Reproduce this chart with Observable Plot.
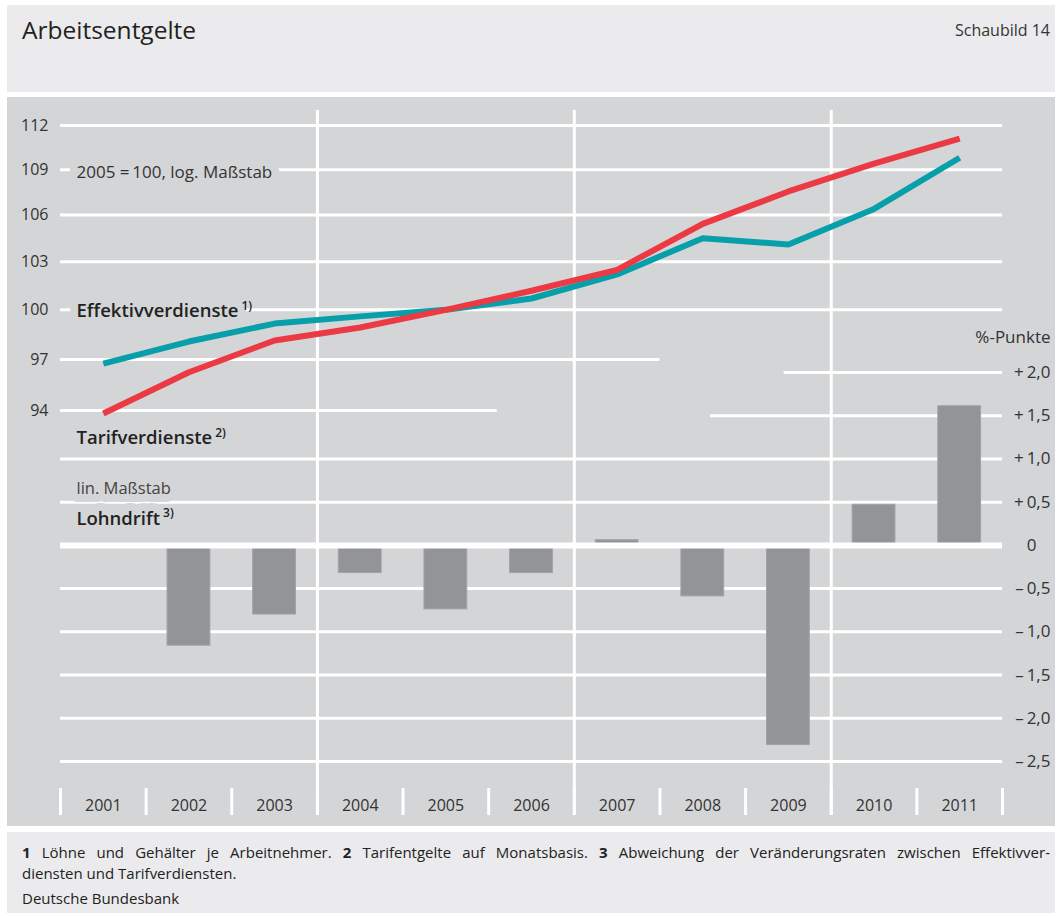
<!DOCTYPE html>
<html>
<head>
<meta charset="utf-8">
<script src="https://cdn.jsdelivr.net/npm/d3@7"></script>
<script src="https://cdn.jsdelivr.net/npm/@observablehq/plot@0.6"></script>
<style>
  body { margin: 0; background: #ffffff; font-family: "Open Sans", sans-serif; }
  #page { position: relative; width: 1059px; height: 916px; overflow: hidden; }
  .panel { position: absolute; left: 7px; width: 1048px; }
  #head { top: 5px; height: 87px; background: #ebebed; }
  #chart { top: 97px; height: 729px; background: #d4d5d7; overflow: visible; }
  #foot { top: 832px; height: 81px; background: #ebebed; }
  #title { position: absolute; left: 15px; top: 8px; font-size: 24.5px; color: #222; }
  #num { position: absolute; right: 5px; top: 14px; font-size: 16px; color: #333; }
  .layer { position: absolute; left: -7px; top: 0; max-width: none !important; }
  .fn { position: absolute; left: 15px; width: 1028px; font-size: 15px; color: #222; line-height: 21px; white-space: nowrap; }
  #fn1 { top: 10px; text-align: justify; text-align-last: justify; white-space: normal; }
  #fn2 { top: 31px; }
  #fn3 { top: 56px; }
</style>
</head>
<body>
<div id="page">
  <div id="head" class="panel">
    <div id="title">Arbeitsentgelte</div>
    <div id="num">Schaubild 14</div>
  </div>
  <div id="chart" class="panel"></div>
  <div id="foot" class="panel">
    <div id="fn1" class="fn"><b>1</b> Löhne und Gehälter je Arbeitnehmer. <b>2</b> Tarifentgelte auf Monatsbasis. <b>3</b> Abweichung der Veränderungsraten zwischen Effektivver-</div>
    <div id="fn2" class="fn">diensten und Tarifverdiensten.</div>
    <div id="fn3" class="fn">Deutsche Bundesbank</div>
  </div>
</div>
<script>
// ---- data ----
const years = [2001, 2002, 2003, 2004, 2005, 2006, 2007, 2008, 2009, 2010, 2011];
const effektivverdienste = [96.75, 98.07, 99.16, 99.6, 100, 100.7, 102.2, 104.5, 104.1, 106.4, 109.8];
const tarifverdienste = [93.83, 96.24, 98.13, 98.92, 100, 101.18, 102.49, 105.43, 107.55, 109.4, 111.1];
const lohndrift = [null, -1.16, -0.80, -0.32, -0.74, -0.32, 0.06, -0.59, -2.31, 0.47, 1.61];
const logTicks = [94, 97, 100, 103, 106, 109, 112];
const linTicks = [2, 1.5, 1, 0.5, -0.5, -1, -1.5, -2, -2.5];
const linTickLabels = ["+\u20092,0", "+\u20091,5", "+\u20091,0", "+\u20090,5", "\u2013\u20090,5", "\u2013\u20091,0", "\u2013\u20091,5", "\u2013\u20092,0", "\u2013\u20092,5"];
const zeroLabel = ["0"];

// ---- styling ----
const RED = "#eb3a43";
const TEAL = "#079faa";
const BG = "#d4d5d7";
const BAR = "#939497";
const W = 1059, H = 729;
const common = {
  width: W, height: H,
  marginLeft: 60, marginRight: 57, marginTop: 13, marginBottom: 11,
  style: { background: "transparent", fontFamily: "Open Sans, sans-serif", fontSize: "16px", color: "#333", overflow: "visible", maxWidth: "none" }
};
const xScale = { type: "linear", domain: [years[0] - 0.5, years[years.length - 1] + 0.5], axis: null };

const lineRows = years.map((y, i) => ({ year: y, eff: effektivverdienste[i], tarif: tarifverdienste[i] }));
const barRows = years.map((y, i) => ({ year: y, drift: lohndrift[i] })).filter(d => d.drift != null);
const boundaries = years.map(y => y - 0.5).concat([years[years.length - 1] + 0.5]);

// ---- lower plot: Lohndrift (linear) ----
const lower = Plot.plot({
  ...common,
  x: xScale,
  y: { type: "linear", domain: [-2.5, 2], range: [664, 275], axis: null },
  marks: [
    Plot.ruleY([1, 0.5, -0.5, -1, -1.5, -2, -2.5], { stroke: "white", strokeWidth: 3 }),
    Plot.ruleY([2], { x1: 2008.95, x2: 2011.5, stroke: "white", strokeWidth: 3 }),
    Plot.ruleY([1.5], { x1: 2008.09, x2: 2011.5, stroke: "white", strokeWidth: 3 }),
    Plot.rect(barRows, { x1: d => d.year - 0.25, x2: d => d.year + 0.25, y1: 0, y2: "drift", fill: BAR, stroke: "#a2a3a5", strokeWidth: 1 }),
    Plot.ruleY([0], { stroke: "white", strokeWidth: 6 }),
    Plot.ruleX(boundaries, { insetTop: 678, stroke: "white", strokeWidth: 3 }),
    Plot.text(years, { x: d => d, frameAnchor: "bottom", dy: -5, fill: "#333", fontSize: 16, text: d => String(d) }),
    Plot.text(linTicks, { y: d => d, text: (d, i) => linTickLabels[i], frameAnchor: "right", dx: 48, textAnchor: "end", fill: "#333", fontSize: 17 }),
    Plot.text(zeroLabel, { y: 0, frameAnchor: "right", dx: 29, textAnchor: "middle", fill: "#333", fontSize: 17 }),
    Plot.text(["%-Punkte"], { y: 2.41, frameAnchor: "right", dx: 48, textAnchor: "end", fill: "#333", fontSize: 17 }),
    Plot.text(["Tarifverdienste"], { y: 1.24, frameAnchor: "left", dx: 16, textAnchor: "start", fill: "#222", fontSize: 18.5, fontWeight: 600 }),
    Plot.text(["lin. Maßstab"], { y: 0.66, frameAnchor: "left", dx: 16, textAnchor: "start", fill: "#444", fontSize: 16.5, stroke: BG, strokeWidth: 16, strokeLinejoin: "round" }),
    Plot.text(["Lohndrift"], { y: 0.31, frameAnchor: "left", dx: 16, textAnchor: "start", fill: "#222", fontSize: 18.5, fontWeight: 600, stroke: BG, strokeWidth: 16, strokeLinejoin: "round" })
  ]
});

// ---- upper plot: indices (log) ----
const upper = Plot.plot({
  ...common,
  x: xScale,
  y: { type: "log", domain: [94, 112], range: [313, 28], ticks: logTicks, tickFormat: d => String(d), tickSize: 0, tickPadding: 12, label: null },
  marks: [
    Plot.ruleY([100, 103, 106, 109, 112], { stroke: "white", strokeWidth: 3 }),
    Plot.ruleY([97], { x1: 2000.5, x2: 2007.5, stroke: "white", strokeWidth: 3 }),
    Plot.ruleY([94], { x1: 2000.5, x2: 2005.6, stroke: "white", strokeWidth: 3 }),
    Plot.ruleX([2003.5, 2006.5, 2009.5], { stroke: "white", strokeWidth: 3 }),
    Plot.text(["2005 =\u2009100, log. Maßstab"], { y: 108.8, frameAnchor: "left", dx: 16, textAnchor: "start", fill: "#333", fontSize: 17, stroke: BG, strokeWidth: 16, strokeLinejoin: "round" }),
    Plot.text(["Effektivverdienste"], { y: 99.9, frameAnchor: "left", dx: 16, textAnchor: "start", fill: "#222", fontSize: 18.5, fontWeight: 600, stroke: BG, strokeWidth: 16, strokeLinejoin: "round" }),
    Plot.line(lineRows, { x: "year", y: "eff", stroke: TEAL, strokeWidth: 6, strokeLinecap: "butt", strokeLinejoin: "miter" }),
    Plot.line(lineRows, { x: "year", y: "tarif", stroke: RED, strokeWidth: 6, strokeLinecap: "butt", strokeLinejoin: "miter" })
  ]
});

lower.classList.add("layer");
upper.classList.add("layer");
const chart = document.getElementById("chart");
chart.appendChild(lower);
chart.appendChild(upper);

function addSup(svg, label, sup) {
  d3.select(svg).selectAll("text")
    .filter(function () { return this.firstChild && this.firstChild.nodeValue === label; })
    .append("tspan")
    .attr("dx", "3").attr("dy", "-0.6em")
    .attr("font-size", "12px")
    .attr("stroke", "none")
    .text(sup);
}
addSup(upper, "Effektivverdienste", "1)");
addSup(lower, "Tarifverdienste", "2)");
addSup(lower, "Lohndrift", "3)");
</script>
</body>
</html>
